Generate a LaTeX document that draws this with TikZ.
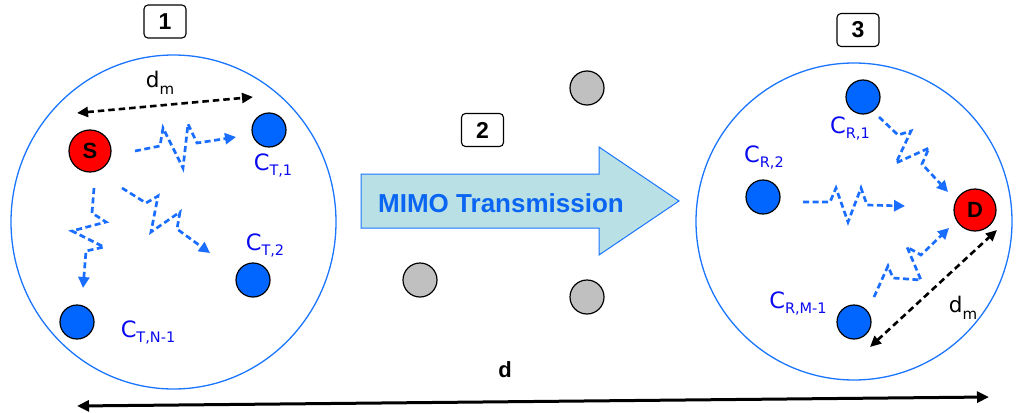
\documentclass[tikz,border=0pt]{standalone}
\usepackage{fontspec}
\setmainfont{DejaVu Sans}
\newfontfamily\lsans{Liberation Sans}
\usetikzlibrary{arrows.meta}
\definecolor{zig}{HTML}{1A6EFF}
\definecolor{nodeblue}{HTML}{0066FF}
\definecolor{labblue}{HTML}{0A0AF0}
\definecolor{ringblue}{HTML}{1A75FF}
\definecolor{arrowfill}{HTML}{B9E0E5}
\definecolor{arrowtext}{HTML}{0A66F2}
\definecolor{nodegray}{HTML}{C0C0C0}
\newcommand\clab[1]{{\fontsize{22.5}{22}\selectfont C}\raisebox{-5pt}{\fontsize{14.5}{14}\selectfont #1}}
\newcommand\dmlab{{\fontsize{21.5}{21}\selectfont d}\raisebox{-6.5pt}{\fontsize{15}{15}\selectfont m}}
\tikzset{
  cell/.style={circle, draw=black, line width=1.2pt, minimum size=34pt, inner sep=0pt, fill=nodeblue},
  gcell/.style={cell, fill=nodegray},
  endnode/.style={circle, draw=black, line width=1.2pt, minimum size=42pt, inner sep=0pt, fill=red,
    font=\lsans\bfseries\fontsize{22}{22}\selectfont},
  numbox/.style={draw=black, line width=1.1pt, rounded corners=4pt, minimum width=42pt, minimum height=33pt,
    inner sep=0pt, font=\lsans\bfseries\fontsize{23}{23}\selectfont},
  ring/.style={draw=ringblue, line width=1.3pt},
  clabel/.style={text=labblue, inner sep=0pt},
  zigarrow/.style={draw=zig, line width=2.7pt, dash pattern=on 6pt off 3.5pt,
    -{Triangle[length=11pt,width=11pt]}},
  dmarrow/.style={draw=black, line width=2.6pt, dash pattern=on 6.5pt off 4pt,
    {Triangle[length=11pt,width=10pt]}-{Triangle[length=11pt,width=10pt]}},
}
\begin{document}
\begin{tikzpicture}[x=1pt,y=-1pt]
\useasboundingbox (0,0) rectangle (1019,412);
% rings
\draw[ring] (173.5,222) ellipse [x radius=162.5, y radius=167];
\draw[ring] (854,221.5) ellipse [x radius=158, y radius=158.5];
% number boxes
\node[numbox] (b1) at (165,21.5) {1};
\node[numbox] (b2) at (482.5,130) {2};
\node[numbox] (b3) at (858,30) {3};
% MIMO arrow
\path[fill=arrowfill, draw=ringblue, line width=1pt]
  (361,174) -- (599,174) -- (599,147) -- (679,201) -- (599,255) -- (599,228) -- (361,228) -- cycle;
\node[text=arrowtext, font=\lsans\bfseries\fontsize{26}{26}\selectfont, inner sep=0pt] (mimo) at (501,203) {MIMO Transmission};
% nodes cluster 1
\node[endnode] (S) at (90,151) {S};
\node[cell] (ct1) at (269,130) {};
\node[cell] (ct2) at (253,280) {};
\node[cell] (ctn) at (77,322) {};
\node[clabel] (lct1) at (273,165) {\clab{T,1}};
\node[clabel] (lct2) at (265,245) {\clab{T,2}};
\node[clabel] (lctn) at (148,332) {\clab{T,N-1}};
% gray nodes
\node[gcell] (g1) at (587,88) {};
\node[gcell] (g2) at (420,280) {};
\node[gcell] (g3) at (587,297) {};
% cluster 3
\node[endnode] (D) at (975,210) {D};
\node[cell] (cr1) at (863,97) {};
\node[cell] (cr2) at (763,197) {};
\node[cell] (crm) at (854,322) {};
\node[clabel] (lcr1) at (850,128) {\clab{R,1}};
\node[clabel] (lcr2) at (764,157) {\clab{R,2}};
\node[clabel] (lcrm) at (798,303) {\clab{R,M-1}};
% zigzag links
\coordinate (z1s) at (135,151); \coordinate (z1e) at (236,137);
\draw[zigarrow] (z1s) -- (160,146) -- (163,128) -- (183,168) -- (188,124) -- (197,143) -- (z1e);
\coordinate (z2s) at (94,188); \coordinate (z2e) at (83,288);
\draw[zigarrow] (z2s) -- (92,213) -- (106,222) -- (72,231) -- (104,247) -- (86,251) -- (z2e);
\coordinate (z3s) at (122,188); \coordinate (z3e) at (210,253);
\draw[zigarrow] (z3s) -- (146,203) -- (158,196) -- (151,232) -- (180,212) -- (177,229) -- (z3e);
\coordinate (z4s) at (879,117); \coordinate (z4e) at (948,192);
\draw[zigarrow] (z4s) -- (898,135) -- (911,131) -- (896,163) -- (929,148) -- (922,164) -- (z4e);
\coordinate (z5s) at (803,202); \coordinate (z5e) at (905,206);
\draw[zigarrow] (z5s) -- (830,202) -- (836,188) -- (848,222) -- (861,188) -- (867,205) -- (z5e);
\coordinate (z6s) at (874,297); \coordinate (z6e) at (949,228);
\draw[zigarrow] (z6s) -- (888,266) -- (893,278) -- (921,280) -- (907,247) -- (921,255) -- (z6e);
% distance arrows
\coordinate (dm1a) at (77,113); \coordinate (dm1b) at (253,97);
\draw[dmarrow] (dm1a) -- (dm1b);
\node[inner sep=0pt] (ldm1) at (160,83) {\dmlab};
\coordinate (dm2a) at (870,347); \coordinate (dm2b) at (997,230);
\draw[dmarrow] (dm2a) -- (dm2b);
\node[inner sep=0pt] (ldm2) at (963,308) {\dmlab};
\coordinate (da) at (77,406); \coordinate (db) at (989,397);
\draw[line width=3pt, {Triangle[length=12pt,width=11pt]}-{Triangle[length=12pt,width=11pt]}] (da) -- (db);
\node[font=\lsans\bfseries\fontsize{22}{22}\selectfont, inner sep=0pt] (dlab) at (505,370) {d};
\end{tikzpicture}
\end{document}
